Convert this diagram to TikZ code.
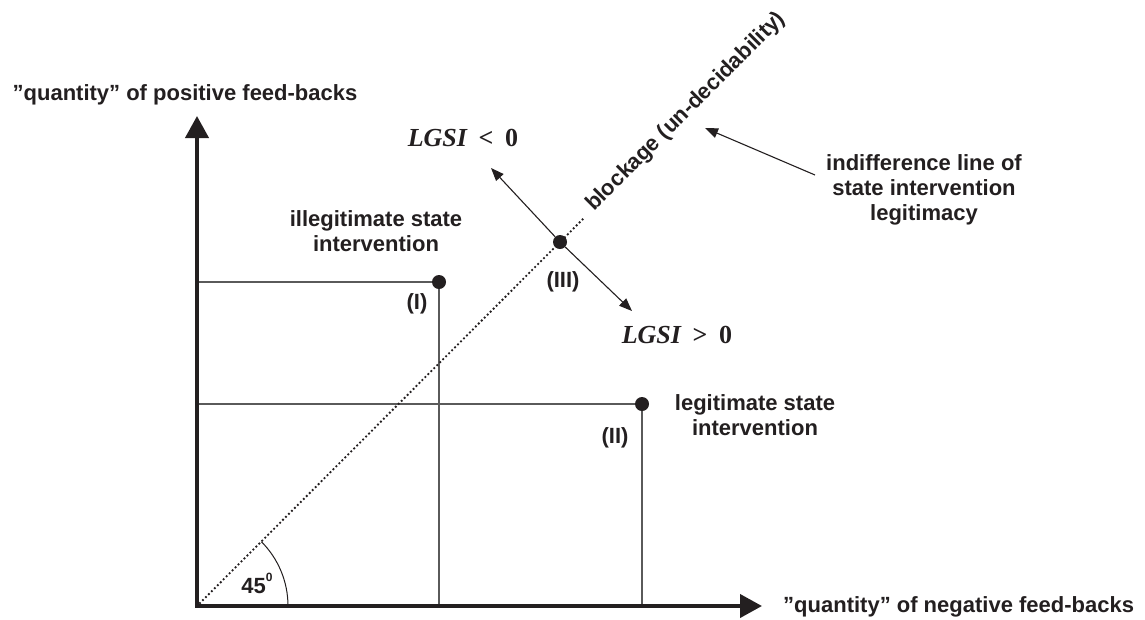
\documentclass[tikz,border=0pt]{standalone}
\usepackage{fontspec}
\setmainfont{Liberation Sans}
\newfontfamily\mserif{Liberation Serif}
\usetikzlibrary{arrows.meta}
\definecolor{ink}{HTML}{231F20}
\definecolor{guidegray}{HTML}{5A5A5A}
\newcommand{\lgsi}[1]{{\itshape LGSI}\hspace{0.45em}#1\hspace{0.45em}0}
\begin{document}
\begin{tikzpicture}[x=1pt,y=-1pt,
  txt/.style={font=\fontsize{22}{25}\selectfont\bfseries, text=ink, align=center, inner sep=0pt},
  mathlab/.style={font=\fontsize{26}{28}\selectfont\mserif\bfseries, text=ink, inner sep=0pt},
  dotnode/.style={circle, fill=ink, inner sep=0pt, minimum size=14pt},
  axisline/.style={line width=4pt, ink, line join=miter, {Triangle[length=22pt,width=23pt]}-{Triangle[length=22pt,width=23pt]}},
  guide/.style={line width=1.3pt, guidegray},
  thinarrow/.style={line width=1.1pt, ink, -{Triangle[length=13pt,width=10pt]}},
  diag/.style={line width=2.6pt, ink, line cap=round, dash pattern=on 0pt off 4.2pt}]
\useasboundingbox (0,0) rectangle (1145,619);
% axes
\coordinate (O) at (197,606);
\coordinate (Xend) at (762,606);
\coordinate (Yend) at (197,116);
% points
\coordinate (p1) at (439,282);
\coordinate (p2) at (642,404);
\coordinate (p3) at (560,242);
\coordinate (B) at (585,217);
% guide lines
\draw[guide] (p1) -- (p1 -| O);
\draw[guide] (p1) -- (p1 |- O);
\draw[guide] (p2) -- (p2 -| O);
\draw[guide] (p2) -- (p2 |- O);
% diagonal
\draw[diag] (O) -- (B);
% angle arc
\draw[line width=1pt, ink] (O) ++(91pt,0pt) arc[start angle=0, end angle=45, radius=91pt];
\draw[axisline] (Yend) -- (O) -- (Xend);
% dots
\node[dotnode] (P1) at (p1) {};
\node[dotnode] (P2) at (p2) {};
\node[dotnode] (P3) at (p3) {};
% arrows from III
\coordinate (A1) at (491,168);
\coordinate (A2) at (632,311);
\draw[thinarrow] (P3) -- (A1);
\draw[thinarrow] (P3) -- (A2);
% labels
\node[txt] (ylab) at (185,95) {”quantity” of positive feed-backs};
\node[txt, anchor=west] (xlab) at (783,607) {”quantity” of negative feed-backs};
\node[txt] (illeg) at (376,231) {illegitimate state\\intervention};
\node[txt] (leg) at (755,415) {legitimate state\\intervention};
\node[txt] (l1) at (417,304) {(I)};
\node[txt] (l2) at (615,438) {(II)};
\node[txt] (l3) at (563,282) {(III)};
\node[txt] (ind) at (924,190) {indifference line of\\state intervention\\legitimacy};
\node[txt] (ang) at (257,583) {45\raisebox{0.55em}{\fontsize{12}{12}\selectfont 0}};
\node[mathlab] (lt) at (463,138) {\lgsi{<}};
\node[mathlab] (gt) at (677,335) {\lgsi{>}};
\node[txt, rotate=45, anchor=west] (blk) at (590,208) {blockage (un-decidability)};
% indifference pointer
\coordinate (indtail) at (815,175);
\coordinate (indtip) at (705,128);
\draw[thinarrow] (indtail) -- (indtip);
\end{tikzpicture}
\end{document}
